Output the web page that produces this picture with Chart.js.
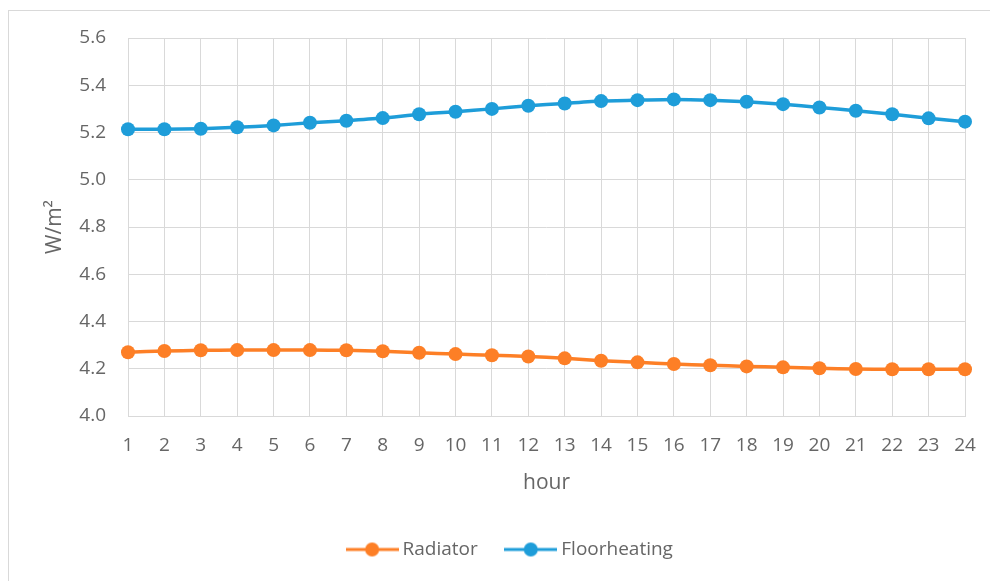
<!DOCTYPE html>
<html>
<head>
<meta charset="utf-8">
<title>Heat output per hour</title>
<script src="https://cdn.jsdelivr.net/npm/chart.js@4/dist/chart.umd.min.js"></script>
<style>
  html, body { margin: 0; padding: 0; background: #ffffff; }
  canvas { display: block; }
</style>
</head>
<body>
<canvas id="chart" width="990" height="581"></canvas>
<script>
// Hour of the day
const hours = ['1','2','3','4','5','6','7','8','9','10','11','12',
               '13','14','15','16','17','18','19','20','21','22','23','24'];

// Heat flux, W/m²
const radiator = [4.270, 4.275, 4.278, 4.279, 4.279, 4.279, 4.278, 4.274,
                  4.268, 4.262, 4.257, 4.252, 4.244, 4.234, 4.227, 4.220,
                  4.215, 4.210, 4.206, 4.202, 4.199, 4.198, 4.198, 4.198];
const floorheating = [5.214, 5.214, 5.216, 5.222, 5.230, 5.241, 5.250, 5.261,
                      5.277, 5.288, 5.300, 5.313, 5.323, 5.333, 5.337, 5.340,
                      5.337, 5.330, 5.320, 5.306, 5.292, 5.277, 5.260, 5.246];

const seriesNames = ['Radiator', 'Floorheating'];
const seriesColors = ['#fd7f26', '#1e9dd9'];

// Y axis range
const yMin = 4.0;
const yMax = 5.6;
const yStep = 0.2;

const textColor = '#666666';
const gridColor = '#d9d9d9';
const fontFamily = '"Open Sans", "Noto Sans", sans-serif';

// Legend marker: a short line with a dot on it
function legendIcon(color) {
  const c = document.createElement('canvas');
  c.width = 53; c.height = 16;
  const g = c.getContext('2d');
  g.strokeStyle = color;
  g.lineWidth = 3;
  g.beginPath();
  g.moveTo(0, 8); g.lineTo(53, 8);
  g.stroke();
  g.fillStyle = color;
  g.beginPath();
  g.arc(26.5, 8, 7, 0, Math.PI * 2);
  g.fill();
  return c;
}
const icons = seriesColors.map(legendIcon);

// Open frame around the chart
const framePlugin = {
  id: 'frame',
  beforeDraw(chart) {
    const ctx = chart.ctx;
    ctx.save();
    ctx.fillStyle = '#ffffff';
    ctx.fillRect(0, 0, chart.width, chart.height);
    ctx.strokeStyle = '#d9d9d9';
    ctx.lineWidth = 1;
    ctx.strokeRect(8.5, 10.5, chart.width + 20, chart.height + 20);
    ctx.restore();
  }
};

function series(i, values) {
  return {
    label: seriesNames[i],
    data: values,
    borderColor: seriesColors[i],
    backgroundColor: seriesColors[i],
    borderWidth: 3.5,
    pointRadius: 7,
    pointHoverRadius: 7,
    pointBorderWidth: 0,
    pointBackgroundColor: seriesColors[i],
    tension: 0.2,
    fill: false
  };
}

new Chart(document.getElementById('chart'), {
  type: 'line',
  data: {
    labels: hours,
    datasets: [series(0, radiator), series(1, floorheating)]
  },
  plugins: [framePlugin],
  options: {
    responsive: false,
    animation: false,
    devicePixelRatio: 1,
    layout: { autoPadding: false, padding: { top: 38, right: 0, bottom: 12, left: 34 } },
    plugins: {
      tooltip: { enabled: false },
      legend: {
        position: 'bottom',
        labels: {
          color: textColor,
          font: { family: fontFamily, size: 19 },
          usePointStyle: true,
          pointStyleWidth: 42,
          padding: 32,
          generateLabels(chart) {
            const base = Chart.defaults.plugins.legend.labels.generateLabels(chart);
            return base.map((l, i) => Object.assign(l, { pointStyle: icons[i] }));
          }
        }
      }
    },
    scales: {
      x: {
        type: 'category',
        offset: false,
        afterFit(scale) {
          scale.height = 92;
          scale.paddingLeft = 0;
          scale.paddingRight = 0;
        },
        grid: { color: gridColor, lineWidth: 1, drawTicks: false },
        border: { color: gridColor, width: 1 },
        ticks: {
          color: textColor,
          font: { family: fontFamily, size: 19 },
          padding: 18,
          autoSkip: false,
          maxRotation: 0
        },
        title: {
          display: true,
          text: 'hour',
          color: textColor,
          font: { family: fontFamily, size: 21 },
          padding: { top: 0, bottom: 12 }
        }
      },
      y: {
        min: yMin,
        max: yMax,
        afterFit(scale) { scale.width = 94; },
        grid: { color: gridColor, lineWidth: 1, drawTicks: false },
        border: { display: false },
        ticks: {
          stepSize: yStep,
          color: textColor,
          font: { family: fontFamily, size: 19 },
          padding: 22,
          callback: (v) => Number(v).toFixed(1)
        },
        title: {
          display: true,
          text: 'W/m²',
          color: textColor,
          font: { family: fontFamily, size: 21 },
          padding: { top: 8, bottom: 0 }
        }
      },
      // empty right-hand gutter
      spacer: {
        type: 'linear',
        position: 'right',
        display: true,
        min: 0,
        max: 1,
        afterFit(scale) { scale.width = 25; },
        grid: { display: false, drawTicks: false },
        border: { display: false },
        ticks: { display: false }
      }
    }
  }
});
</script>
</body>
</html>
